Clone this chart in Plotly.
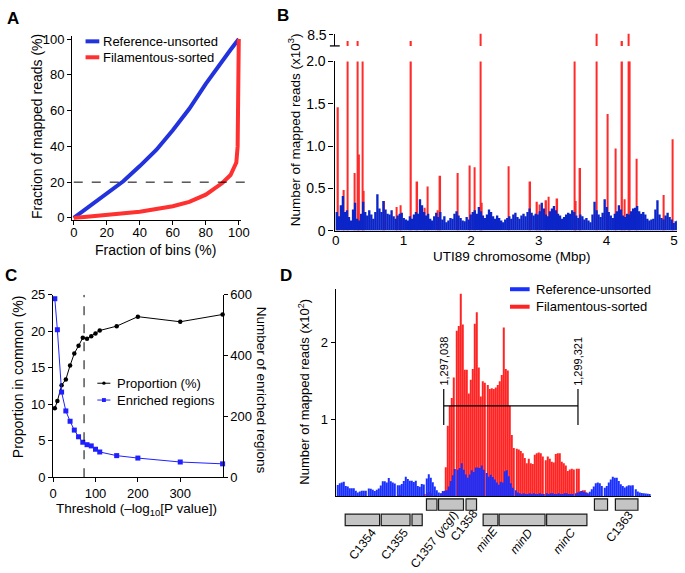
import plotly.graph_objects as go

W, H = 685, 573
FONT = "Arial, Liberation Sans, Helvetica, sans-serif"

# ---------------- Panel A data ----------------
a_ref_bins = [0, 10, 20, 30, 40, 50, 60, 70, 80, 90, 95, 100]
a_ref_reads = [0, 7, 13.5, 20.5, 29, 38, 49, 61, 75, 88, 94, 100]
a_fil_bins = [0, 20, 40, 60, 70, 80, 90, 95, 97, 98.5, 99.3, 99.6, 99.8, 100]
a_fil_reads = [0, 1.5, 3.5, 6.5, 9, 13, 19.5, 24, 27.5, 31, 40, 60, 80, 100]
a_cutoff = 20

# ---------------- Panel B data ----------------
b_bin_mbp = 0.03
b_ref = [
    0.22, 0.17, 0.30, 0.41, 0.22, 0.24, 0.16, 0.12, 0.25, 0.33,
    0.14, 0.12, 0.20, 0.34, 0.22, 0.18, 0.24, 0.19, 0.14, 0.22,
    0.43, 0.26, 0.22, 0.35, 0.25, 0.20, 0.19, 0.24, 0.17, 0.14,
    0.18, 0.20, 0.21, 0.15, 0.13, 0.12, 0.17, 0.14, 0.19, 0.22,
    0.20, 0.37, 0.30, 0.22, 0.18, 0.20, 0.14, 0.12, 0.17, 0.21,
    0.16, 0.22, 0.13, 0.17, 0.10, 0.12, 0.15, 0.14, 0.20, 0.23,
    0.18, 0.15, 0.12, 0.11, 0.16, 0.13, 0.19, 0.22, 0.24, 0.20,
    0.28, 0.23, 0.18, 0.15, 0.19, 0.25, 0.22, 0.17, 0.14, 0.18,
    0.15, 0.12, 0.10, 0.13, 0.15, 0.17, 0.14, 0.19, 0.21, 0.16,
    0.14, 0.18, 0.20, 0.17, 0.22, 0.26, 0.21, 0.18, 0.20, 0.19,
    0.23, 0.33, 0.26, 0.19, 0.17, 0.23, 0.26, 0.29, 0.24, 0.20,
    0.18, 0.14, 0.16, 0.19, 0.21, 0.20, 0.24, 0.22, 0.18, 0.15,
    0.19, 0.17, 0.13, 0.15, 0.12, 0.10, 0.19, 0.34, 0.24, 0.19,
    0.16, 0.21, 0.37, 0.28, 0.22, 0.18, 0.15, 0.20, 0.23, 0.30,
    0.25, 0.18, 0.16, 0.20, 0.19, 0.23, 0.26, 0.27, 0.29, 0.23,
    0.20, 0.22, 0.19, 0.14, 0.12, 0.13, 0.14, 0.25, 0.36, 0.19,
    0.15, 0.13, 0.18, 0.21, 0.16, 0.13, 0.09, 0.11, 0.12,
]
b_ref_pos = [b_bin_mbp * (k + 0.5) for k in range(len(b_ref))]
b_fil_pos = [0.033, 0.12, 0.178, 0.275, 0.324, 0.345, 0.395, 0.41, 0.715, 0.90,
             0.96, 1.112, 1.205, 1.31, 1.36, 1.51, 1.545, 1.805, 1.98, 2.055,
             2.138, 2.16, 2.555, 2.875, 2.975, 3.01, 3.11, 3.145, 3.275, 3.531,
             3.546, 3.614, 3.858, 4.02, 4.14, 4.233, 4.272, 4.325, 4.345, 4.445,
             4.85, 4.98]
b_fil_val = [1.46, 0.48, 7.94, 0.68, 7.94, 0.90, 2.5, 0.47, 0.35, 0.28,
             0.30, 7.94, 0.58, 0.27, 0.52, 0.24, 0.65, 0.68, 0.77, 0.75,
             9.0, 0.33, 0.76, 0.58, 0.34, 0.31, 0.36, 0.40, 0.38, 2.5,
             0.35, 0.74, 9.0, 1.38, 0.97, 7.94, 0.37, 9.0, 2.5, 0.85,
             0.42, 1.08]

# ---------------- Panel C data ----------------
c_threshold = [4, 10, 20, 30, 40, 50, 60, 70, 80, 90, 100, 110, 150, 200, 300, 400]
c_proportion = [9.46, 10.43, 12.6, 13.4, 15.3, 16.96, 18.0, 19.1, 18.96, 19.3,
                19.7, 20.1, 20.7, 22.0, 21.3, 22.3]
c_enriched = [587, 485, 280, 218, 184, 155, 133, 115, 107, 103, 92, 83, 71, 63, 50, 44]
c_cutoff = 73

# ---------------- Panel D data ----------------
d_bin0 = 1295228
d_binw = 35.2
d_ref = [
    0.148, 0.17, 0.18, 0.19, 0.135, 0.127, 0.106, 0.106, 0.106, 0.072,
    0.05, 0.063, 0.072, 0.072, 0.072, 0.1, 0.097, 0.085, 0.068, 0.085,
    0.1, 0.14, 0.195, 0.195, 0.18, 0.237, 0.195, 0.178, 0.165, 0.144,
    0.144, 0.16, 0.2, 0.254, 0.224, 0.203, 0.203, 0.186, 0.203, 0.135,
    0.123, 0.16, 0.152, 0.233, 0.288, 0.241, 0.182, 0.127, 0.08, 0.05,
    0.038, 0.068, 0.072, 0.08, 0.127, 0.2, 0.275, 0.355, 0.347, 0.368,
    0.43, 0.347, 0.283, 0.24, 0.283, 0.338, 0.317, 0.376, 0.376, 0.368,
    0.4, 0.347, 0.305, 0.254, 0.28, 0.25, 0.22, 0.18, 0.15, 0.19,
    0.18, 0.325, 0.34, 0.26, 0.17, 0.11, 0.08, 0.05, 0.04, 0.03,
    0.04, 0.03, 0.03, 0.04, 0.03, 0.04, 0.03, 0.03, 0.04, 0.03,
    0.03, 0.04, 0.03, 0.04, 0.04, 0.03, 0.03, 0.04, 0.03, 0.03,
    0.04, 0.04, 0.03, 0.03, 0.03, 0.04, 0.05, 0.06, 0.07, 0.06,
    0.05, 0.04, 0.06, 0.09, 0.127, 0.17, 0.18, 0.17, 0.135, 0.11,
    0.135, 0.18, 0.22, 0.254, 0.24, 0.24, 0.2, 0.156, 0.135, 0.114,
    0.13, 0.144, 0.14, 0.144, 0.093, 0.063, 0.05, 0.042, 0.038, 0.035,
    0.032, 0.03,
]
d_fil = [
    0, 0, 0, 0, 0, 0, 0, 0, 0, 0,
    0, 0, 0, 0, 0, 0, 0, 0, 0, 0,
    0, 0, 0, 0, 0, 0, 0, 0, 0, 0.02,
    0.02, 0, 0, 0, 0, 0, 0, 0, 0, 0,
    0, 0, 0.03, 0.05, 0.06, 0.04, 0, 0.02, 0, 0,
    0.04, 0.06, 0.38, 0.92, 1.18, 1.28, 1.55, 2.16, 2.22, 2.64,
    2.24, 1.65, 1.65, 1.34, 1.52, 1.66, 2.25, 2.40, 1.68, 1.30,
    1.50, 1.48, 1.45, 1.40, 1.41, 1.40, 1.42, 1.45, 1.50, 1.58,
    2.20, 1.66, 1.64, 1.18, 0.80, 0.63, 0.62, 0.61, 0.59, 0.56,
    0.50, 0.43, 0.49, 0.43, 0.42, 0.54, 0.56, 0.57, 0.56, 0.52,
    0.47, 0.52, 0.49, 0.45, 0.44, 0.55, 0.56, 0.56, 0.45, 0.43,
    0.40, 0.33, 0.35, 0.36, 0.35, 0.36, 0.36, 0.07, 0.08, 0.08,
    0.05, 0.03, 0, 0, 0, 0, 0, 0, 0, 0,
    0, 0, 0, 0, 0, 0, 0, 0, 0, 0,
    0, 0, 0, 0, 0, 0, 0, 0, 0, 0,
    0, 0,
]
d_pos = [d_bin0 + d_binw * i for i in range(len(d_ref))]
d_region = [1297038, 1299321]
d_region_labels = ["1,297,038", "1,299,321"]
d_bracket_y = 1.18
d_gene_start = [1296744, 1296949, 1297417, 1299601, 1299957,
                1295362, 1295975, 1296498, 1297708, 1297980, 1298788]
d_gene_end = [1296923, 1297374, 1297596, 1299824, 1300341,
              1295947, 1296465, 1296672, 1297959, 1298761, 1299473]
d_gene_row = [1, 1, 1, 1, 1, 2, 2, 2, 2, 2, 2]
d_label_text = ["C1354", "C1355", "C1357 (<i>ycgI</i>)", "C1358",
                "<i>minE</i>", "<i>minD</i>", "<i>minC</i>", "C1363"]
d_label_pos = [1295660, 1296205, 1296885, 1297385, 1297775, 1298360, 1299090, 1300040]

# ---------------- helpers (pixel layout) ----------------
def xd(a, b):
    return [a / W, b / W]

def yd(top, bottom):
    return [1 - bottom / H, 1 - top / H]

def px(x):
    return x / W

def py(y):
    return 1 - y / H

BLUE_A, RED_A = "#2233dd", "#ff3030"
BLUE_B, RED_B = "#0b25c8", "#ff2b2b"
BLUE_D, RED_D = "#1a30ff", "#ff2424"

fig = go.Figure()

# Panel A
fig.add_trace(go.Scatter(x=a_ref_bins, y=a_ref_reads, mode="lines", line=dict(color=BLUE_A, width=4),
                         xaxis="x", yaxis="y", name="Reference-unsorted"))
fig.add_trace(go.Scatter(x=a_fil_bins, y=a_fil_reads, mode="lines", line=dict(color=RED_A, width=4),
                         xaxis="x", yaxis="y", name="Filamentous-sorted"))

# Panel B
fig.add_trace(go.Bar(x=b_fil_pos, y=b_fil_val, width=0.022, marker=dict(color=RED_B, line=dict(width=0)),
                     xaxis="x2", yaxis="y2", name="Filamentous-sorted"))
fig.add_trace(go.Bar(x=b_fil_pos, y=b_fil_val, width=0.022, marker=dict(color=RED_B, line=dict(width=0)),
                     xaxis="x2", yaxis="y3", name="Filamentous-sorted"))
fig.add_trace(go.Bar(x=b_ref_pos, y=b_ref, width=b_bin_mbp * 1.15, marker=dict(color=BLUE_B, line=dict(width=0)),
                     xaxis="x2", yaxis="y2", name="Reference-unsorted"))

# Panel C
fig.add_trace(go.Scatter(x=c_threshold, y=c_proportion, mode="lines+markers",
                         line=dict(color="black", width=1), marker=dict(color="black", size=4.5, symbol="circle"),
                         cliponaxis=False, xaxis="x3", yaxis="y4", name="Proportion (%)"))
fig.add_trace(go.Scatter(x=c_threshold, y=c_enriched, mode="lines+markers",
                         line=dict(color="#2020ff", width=1), marker=dict(color="#2020ff", size=5, symbol="square"),
                         cliponaxis=False, xaxis="x3", yaxis="y5", name="Enriched regions"))

# Panel D
fig.add_trace(go.Bar(x=d_pos, y=d_fil, width=0.5 * d_binw, offset=0.24 * d_binw,
                     marker=dict(color=RED_D, line=dict(width=0)), xaxis="x4", yaxis="y6",
                     name="Filamentous-sorted"))
fig.add_trace(go.Bar(x=d_pos, y=d_ref, width=0.5 * d_binw, offset=-0.25 * d_binw,
                     marker=dict(color=BLUE_D, line=dict(width=0)), xaxis="x4", yaxis="y6",
                     name="Reference-unsorted"))

tickfont = dict(size=13, color="black", family=FONT)
common = dict(showgrid=False, zeroline=False, showline=True, linecolor="black", linewidth=1.3,
              ticks="outside", ticklen=4, tickwidth=1.2, tickcolor="black", tickfont=tickfont)

shapes = []
annotations = []

def line_px(x0, y0, x1, y1, color="black", width=1, dash="solid"):
    shapes.append(dict(type="line", xref="paper", yref="paper", x0=px(x0), y0=py(y0), x1=px(x1), y1=py(y1),
                       line=dict(color=color, width=width, dash=dash)))

def text_px(x, y, text, size=13, xanchor="center", angle=0, bold=False):
    annotations.append(dict(xref="paper", yref="paper", x=px(x), y=py(y), text=("<b>%s</b>" % text) if bold else text,
                            showarrow=False, xanchor=xanchor, yanchor="middle", textangle=angle,
                            font=dict(size=size, color="black", family=FONT)))

# Panel letters
text_px(9, 11, "A", 17, bold=True)
text_px(284, 8, "B", 17, bold=True)
text_px(7, 275, "C", 17, bold=True)
text_px(287, 275, "D", 17, bold=True)

# ---- Panel A decorations
shapes.append(dict(type="line", xref="paper", yref="y", x0=px(71), x1=px(253), y0=a_cutoff, y1=a_cutoff,
                   line=dict(color="black", width=1, dash="dash")))
line_px(83, 34.3, 97, 34.3, BLUE_A, 4)
line_px(83, 50.7, 97, 50.7, RED_A, 4)
text_px(99, 34.3, "Reference-unsorted", 13, "left")
text_px(99, 50.7, "Filamentous-sorted", 13, "left")
text_px(154, 249, "Fraction of bins (%)", 14)
text_px(33, 122, "Fraction of mapped reads (%)", 14, angle=-90)

# ---- Panel B decorations
line_px(331.7, 39, 341.7, 39, "black", 1.3)
text_px(295, 125, "Number of mapped reads (x10<sup>3</sup>)", 13.5, angle=-90)
text_px(517, 256, "UTI89 chromosome (Mbp)", 13.5)

# ---- Panel C decorations
shapes.append(dict(type="line", xref="x3", yref="y4", x0=c_cutoff, x1=c_cutoff, y0=0, y1=25,
                   line=dict(color="black", width=1, dash="dash")))
line_px(95, 386, 108.3, 386, "black", 1)
shapes.append(dict(type="circle", xref="paper", yref="paper", x0=px(100), x1=px(103.4), y0=py(387.7), y1=py(384.3),
                   fillcolor="black", line=dict(width=0)))
line_px(95, 403.3, 108.3, 403.3, "#2020ff", 1)
shapes.append(dict(type="rect", xref="paper", yref="paper", x0=px(99.7), x1=px(103.7), y0=py(405.3), y1=py(401.3),
                   fillcolor="#2020ff", line=dict(width=0)))
text_px(112.7, 386, "Proportion (%)", 13, "left")
text_px(112.7, 403.3, "Enriched regions", 13, "left")
text_px(135, 516, "Threshold (–log<sub>10</sub>[P value])", 13.5)
text_px(15, 379, "Proportion in common (%)", 14, angle=-90)
text_px(263, 393, "Number of enriched regions", 13.5, angle=90)

# ---- Panel D decorations
line_px(515, 289.3, 535, 289.3, BLUE_D, 4)
line_px(515, 307.3, 535, 307.3, RED_D, 4)
text_px(539, 289.3, "Reference-unsorted", 13, "left")
text_px(539, 307.3, "Filamentous-sorted", 13, "left")
text_px(305, 395, "Number of mapped reads (x10<sup>2</sup>)", 13, angle=-90)

shapes.append(dict(type="line", xref="x4", yref="y6", x0=d_region[0], x1=d_region[1], y0=d_bracket_y, y1=d_bracket_y,
                   line=dict(color="black", width=1.2)))
for pos, lab in zip(d_region, d_region_labels):
    shapes.append(dict(type="line", xref="x4", yref="y6", x0=pos, x1=pos, y0=0.93, y1=1.40,
                       line=dict(color="black", width=1.2)))
    annotations.append(dict(xref="x4", yref="y6", x=pos, y=1.42, text=lab, showarrow=False, textangle=-90,
                            xanchor="center", yanchor="bottom", font=dict(size=11, color="black", family=FONT)))

row_px = {1: (505, 516.7), 2: (520.7, 532.5)}
for s, e, r in zip(d_gene_start, d_gene_end, d_gene_row):
    top, bot = row_px[r]
    shapes.append(dict(type="rect", xref="x4", yref="paper", x0=s, x1=e, y0=py(bot), y1=py(top),
                       fillcolor="#c4c4c4", line=dict(color="#1a1a1a", width=1.2)))
label_y = [551.7, 551.7, 546.7, 531.7, 546.7, 548.3, 548.3, 533.3]
for lab, pos, ly in zip(d_label_text, d_label_pos, label_y):
    annotations.append(dict(xref="x4", yref="paper", x=pos, y=py(ly), text=lab, showarrow=False, textangle=-52,
                            xanchor="center", yanchor="middle", font=dict(size=12, color="black", family=FONT)))

fig.update_layout(
    width=W, height=H, margin=dict(l=0, r=0, t=0, b=0), autosize=False,
    paper_bgcolor="white", plot_bgcolor="white", showlegend=False, barmode="overlay",
    font=dict(family=FONT, color="black"),
    xaxis=dict(domain=xd(69.5, 241.5), range=[-0.9, 101.5], anchor="y", tickvals=[0, 20, 40, 60, 80, 100],
               ticklabelstandoff=-3, **common),
    yaxis=dict(domain=yd(29.2, 217.8), range=[-1, 101.5], anchor="x", tickvals=[0, 20, 40, 60, 80, 100], **common),
    xaxis2=dict(domain=xd(336.5, 685), range=[-0.0175, 5.044], anchor="y2", tickvals=[0, 1, 2, 3, 4, 5],
                ticklabelstandoff=-3,
                **{**common, "ticks": "", "tickfont": dict(size=13.5, color="black", family=FONT)}),
    yaxis2=dict(domain=yd(55, 229), range=[0, 2.0], anchor="x2", tickvals=[0, 0.5, 1, 1.5, 2],
                ticktext=["0", "0.5", "1.0", "1.5", "2.0"],
                **{**common, "ticklen": 5, "tickfont": dict(size=14, color="black", family=FONT)}),
    yaxis3=dict(domain=yd(26.5, 39), range=[7.5, 8.6], anchor="x2", tickvals=[8.5], ticktext=["8.5"],
                **{**common, "ticklen": 4, "tickfont": dict(size=14, color="black", family=FONT)}),
    xaxis3=dict(domain=xd(50, 222.5), range=[0, 400], anchor="y4", tickvals=[0, 100, 200, 300], **common),
    yaxis4=dict(domain=yd(295, 482.7), range=[0, 25], anchor="x3", tickvals=[0, 5, 10, 15, 20, 25], **common),
    yaxis5=dict(range=[0, 600], anchor="x3", overlaying="y4", side="right", tickvals=[0, 200, 400, 600], **common),
    xaxis4=dict(domain=xd(337.7, 658.3), range=[1295202, 1300559], anchor="y6",
                **{**common, "ticks": "", "showticklabels": False}),
    yaxis6=dict(domain=yd(289.3, 502.3), range=[0, 2.70], anchor="x4", tickvals=[1, 2], **common),
    shapes=shapes, annotations=annotations,
)

fig.write_html("out.html", config={"displayModeBar": False},
               post_script="document.body.style.margin='0';document.body.style.padding='0';"
                           "document.documentElement.style.overflow='hidden';")
